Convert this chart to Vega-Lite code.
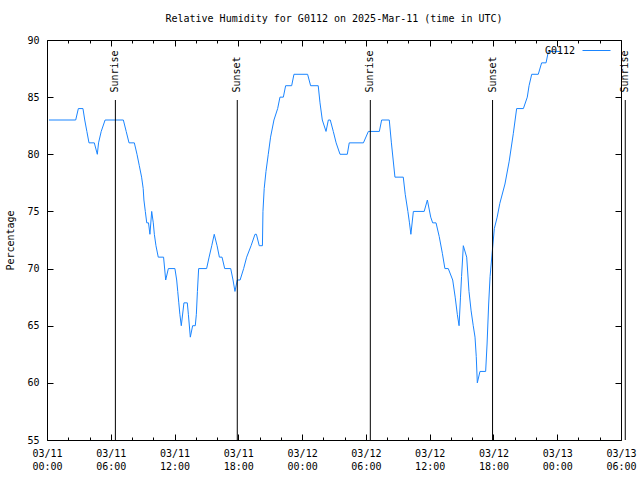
{
  "$schema": "https://vega.github.io/schema/vega-lite/v6.json",
  "width": 574,
  "height": 400,
  "autosize": "none",
  "padding": {"left": 47, "top": 40, "right": 19, "bottom": 40},
  "background": "white",
  "config": {
    "view": {"stroke": "#000000", "strokeWidth": 1},
    "font": "DejaVu Sans Mono",
    "axis": {"domain": false, "grid": false, "tickColor": "#000000", "tickWidth": 1, "labelFont": "DejaVu Sans Mono", "labelFontSize": 10, "labelColor": "#000000", "titleFont": "DejaVu Sans Mono", "titleFontSize": 10, "titleFontWeight": "normal", "titleColor": "#000000"},
    "legend": {"labelFont": "DejaVu Sans Mono", "labelFontSize": 10, "labelColor": "#000000"}
  },
  "title": {"text": "Relative Humidity for G0112 on 2025-Mar-11 (time in UTC)", "font": "DejaVu Sans Mono", "fontSize": 10, "fontWeight": "normal", "color": "#000000", "anchor": "middle", "offset": 11},
  "datasets": {
    "hum": [
      {"t": "2025-03-11T00:11:00Z", "v": 83}, {"t": "2025-03-11T02:42:00Z", "v": 83}, {"t": "2025-03-11T02:57:00Z", "v": 84}, {"t": "2025-03-11T03:23:00Z", "v": 84},
      {"t": "2025-03-11T03:33:00Z", "v": 83}, {"t": "2025-03-11T03:45:00Z", "v": 82}, {"t": "2025-03-11T03:57:00Z", "v": 81}, {"t": "2025-03-11T04:27:00Z", "v": 81},
      {"t": "2025-03-11T04:44:00Z", "v": 80}, {"t": "2025-03-11T04:51:00Z", "v": 81}, {"t": "2025-03-11T05:06:00Z", "v": 82}, {"t": "2025-03-11T05:28:00Z", "v": 83},
      {"t": "2025-03-11T07:11:00Z", "v": 83}, {"t": "2025-03-11T07:27:00Z", "v": 82}, {"t": "2025-03-11T07:43:00Z", "v": 81}, {"t": "2025-03-11T08:13:00Z", "v": 81},
      {"t": "2025-03-11T08:28:00Z", "v": 80}, {"t": "2025-03-11T08:41:00Z", "v": 79}, {"t": "2025-03-11T08:54:00Z", "v": 78}, {"t": "2025-03-11T09:03:00Z", "v": 77},
      {"t": "2025-03-11T09:07:00Z", "v": 76}, {"t": "2025-03-11T09:15:00Z", "v": 75}, {"t": "2025-03-11T09:23:00Z", "v": 74}, {"t": "2025-03-11T09:33:00Z", "v": 74},
      {"t": "2025-03-11T09:41:00Z", "v": 73}, {"t": "2025-03-11T09:51:00Z", "v": 75}, {"t": "2025-03-11T10:00:00Z", "v": 74}, {"t": "2025-03-11T10:06:00Z", "v": 73},
      {"t": "2025-03-11T10:15:00Z", "v": 72}, {"t": "2025-03-11T10:28:00Z", "v": 71}, {"t": "2025-03-11T10:58:00Z", "v": 71}, {"t": "2025-03-11T11:10:00Z", "v": 69},
      {"t": "2025-03-11T11:25:00Z", "v": 70}, {"t": "2025-03-11T12:02:00Z", "v": 70}, {"t": "2025-03-11T12:12:00Z", "v": 69}, {"t": "2025-03-11T12:18:00Z", "v": 68},
      {"t": "2025-03-11T12:24:00Z", "v": 67}, {"t": "2025-03-11T12:30:00Z", "v": 66}, {"t": "2025-03-11T12:38:00Z", "v": 65}, {"t": "2025-03-11T12:53:00Z", "v": 67},
      {"t": "2025-03-11T13:12:00Z", "v": 67}, {"t": "2025-03-11T13:18:00Z", "v": 66}, {"t": "2025-03-11T13:29:00Z", "v": 64}, {"t": "2025-03-11T13:42:00Z", "v": 65},
      {"t": "2025-03-11T13:57:00Z", "v": 65}, {"t": "2025-03-11T14:03:00Z", "v": 66}, {"t": "2025-03-11T14:09:00Z", "v": 68}, {"t": "2025-03-11T14:16:00Z", "v": 70},
      {"t": "2025-03-11T15:01:00Z", "v": 70}, {"t": "2025-03-11T15:15:00Z", "v": 71}, {"t": "2025-03-11T15:30:00Z", "v": 72}, {"t": "2025-03-11T15:44:00Z", "v": 73},
      {"t": "2025-03-11T16:00:00Z", "v": 72}, {"t": "2025-03-11T16:13:00Z", "v": 71}, {"t": "2025-03-11T16:28:00Z", "v": 71}, {"t": "2025-03-11T16:43:00Z", "v": 70},
      {"t": "2025-03-11T17:17:00Z", "v": 70}, {"t": "2025-03-11T17:30:00Z", "v": 69}, {"t": "2025-03-11T17:41:00Z", "v": 68}, {"t": "2025-03-11T17:54:00Z", "v": 69},
      {"t": "2025-03-11T18:10:00Z", "v": 69}, {"t": "2025-03-11T18:30:00Z", "v": 70}, {"t": "2025-03-11T18:47:00Z", "v": 71}, {"t": "2025-03-11T19:12:00Z", "v": 72},
      {"t": "2025-03-11T19:34:00Z", "v": 73}, {"t": "2025-03-11T19:42:00Z", "v": 73}, {"t": "2025-03-11T19:58:00Z", "v": 72}, {"t": "2025-03-11T20:16:00Z", "v": 72},
      {"t": "2025-03-11T20:19:00Z", "v": 75}, {"t": "2025-03-11T20:26:00Z", "v": 77}, {"t": "2025-03-11T20:36:00Z", "v": 78.5}, {"t": "2025-03-11T20:49:00Z", "v": 80},
      {"t": "2025-03-11T21:02:00Z", "v": 81.5}, {"t": "2025-03-11T21:21:00Z", "v": 83}, {"t": "2025-03-11T21:42:00Z", "v": 84}, {"t": "2025-03-11T21:55:00Z", "v": 85},
      {"t": "2025-03-11T22:14:00Z", "v": 85}, {"t": "2025-03-11T22:27:00Z", "v": 86}, {"t": "2025-03-11T23:01:00Z", "v": 86}, {"t": "2025-03-11T23:14:00Z", "v": 87},
      {"t": "2025-03-12T00:31:00Z", "v": 87}, {"t": "2025-03-12T00:48:00Z", "v": 86}, {"t": "2025-03-12T01:31:00Z", "v": 86}, {"t": "2025-03-12T01:41:00Z", "v": 84.5},
      {"t": "2025-03-12T01:54:00Z", "v": 83}, {"t": "2025-03-12T02:15:00Z", "v": 82}, {"t": "2025-03-12T02:28:00Z", "v": 83}, {"t": "2025-03-12T02:39:00Z", "v": 83},
      {"t": "2025-03-12T02:56:00Z", "v": 82}, {"t": "2025-03-12T03:12:00Z", "v": 81}, {"t": "2025-03-12T03:34:00Z", "v": 80}, {"t": "2025-03-12T04:15:00Z", "v": 80},
      {"t": "2025-03-12T04:26:00Z", "v": 81}, {"t": "2025-03-12T05:46:00Z", "v": 81}, {"t": "2025-03-12T06:14:00Z", "v": 82}, {"t": "2025-03-12T07:16:00Z", "v": 82},
      {"t": "2025-03-12T07:29:00Z", "v": 83}, {"t": "2025-03-12T08:12:00Z", "v": 83}, {"t": "2025-03-12T08:24:00Z", "v": 81}, {"t": "2025-03-12T08:44:00Z", "v": 78},
      {"t": "2025-03-12T09:31:00Z", "v": 78}, {"t": "2025-03-12T09:42:00Z", "v": 76.5}, {"t": "2025-03-12T09:57:00Z", "v": 75}, {"t": "2025-03-12T10:06:00Z", "v": 74},
      {"t": "2025-03-12T10:14:00Z", "v": 73}, {"t": "2025-03-12T10:28:00Z", "v": 75}, {"t": "2025-03-12T11:29:00Z", "v": 75}, {"t": "2025-03-12T11:47:00Z", "v": 76},
      {"t": "2025-03-12T12:06:00Z", "v": 74.5}, {"t": "2025-03-12T12:17:00Z", "v": 74}, {"t": "2025-03-12T12:36:00Z", "v": 74}, {"t": "2025-03-12T12:54:00Z", "v": 72.8},
      {"t": "2025-03-12T13:12:00Z", "v": 71.3}, {"t": "2025-03-12T13:26:00Z", "v": 70}, {"t": "2025-03-12T13:45:00Z", "v": 70}, {"t": "2025-03-12T14:10:00Z", "v": 69},
      {"t": "2025-03-12T14:24:00Z", "v": 67.5}, {"t": "2025-03-12T14:36:00Z", "v": 66}, {"t": "2025-03-12T14:46:00Z", "v": 65}, {"t": "2025-03-12T14:54:00Z", "v": 67.5},
      {"t": "2025-03-12T15:00:00Z", "v": 69.3}, {"t": "2025-03-12T15:10:00Z", "v": 72}, {"t": "2025-03-12T15:29:00Z", "v": 71}, {"t": "2025-03-12T15:42:00Z", "v": 68},
      {"t": "2025-03-12T15:54:00Z", "v": 66.3}, {"t": "2025-03-12T16:06:00Z", "v": 65}, {"t": "2025-03-12T16:16:00Z", "v": 64}, {"t": "2025-03-12T16:23:00Z", "v": 62.3},
      {"t": "2025-03-12T16:29:00Z", "v": 60}, {"t": "2025-03-12T16:44:00Z", "v": 61}, {"t": "2025-03-12T17:16:00Z", "v": 61}, {"t": "2025-03-12T17:24:00Z", "v": 63.4},
      {"t": "2025-03-12T17:33:00Z", "v": 66.9}, {"t": "2025-03-12T17:41:00Z", "v": 69.3}, {"t": "2025-03-12T17:54:00Z", "v": 71.6}, {"t": "2025-03-12T18:05:00Z", "v": 73.5},
      {"t": "2025-03-12T18:21:00Z", "v": 74.5}, {"t": "2025-03-12T18:36:00Z", "v": 75.7}, {"t": "2025-03-12T19:05:00Z", "v": 77.4}, {"t": "2025-03-12T19:29:00Z", "v": 79.4},
      {"t": "2025-03-12T19:52:00Z", "v": 81.8}, {"t": "2025-03-12T20:11:00Z", "v": 84}, {"t": "2025-03-12T20:49:00Z", "v": 84}, {"t": "2025-03-12T21:11:00Z", "v": 85},
      {"t": "2025-03-12T21:21:00Z", "v": 86}, {"t": "2025-03-12T21:36:00Z", "v": 87}, {"t": "2025-03-12T22:13:00Z", "v": 87}, {"t": "2025-03-12T22:32:00Z", "v": 88},
      {"t": "2025-03-12T22:57:00Z", "v": 88}, {"t": "2025-03-12T23:10:00Z", "v": 89}, {"t": "2025-03-13T00:16:00Z", "v": 89}
    ],
    "sun": [
      {"t": "2025-03-11T06:26:00Z", "label": "Sunrise"},
      {"t": "2025-03-11T17:54:00Z", "label": "Sunset"},
      {"t": "2025-03-12T06:25:00Z", "label": "Sunrise"},
      {"t": "2025-03-12T17:55:00Z", "label": "Sunset"},
      {"t": "2025-03-13T06:24:00Z", "label": "Sunrise"}
    ]
  },
  "resolve": {"axis": {"x": "independent", "y": "independent"}},
  "layer": [
    {
      "data": {"name": "hum"},
      "mark": {"type": "line", "strokeWidth": 1, "clip": true},
      "encoding": {
        "x": {"field": "t", "type": "temporal",
          "scale": {"type": "utc", "domain": [1741651200000, 1741845600000], "nice": false},
          "axis": {"orient": "bottom", "title": null,
            "values": [1741651200000, 1741658400000, 1741665600000, 1741672800000, 1741680000000, 1741687200000, 1741694400000, 1741701600000, 1741708800000, 1741716000000, 1741723200000, 1741730400000, 1741737600000, 1741744800000, 1741752000000, 1741759200000, 1741766400000, 1741773600000, 1741780800000, 1741788000000, 1741795200000, 1741802400000, 1741809600000, 1741816800000, 1741824000000, 1741831200000, 1741838400000, 1741845600000],
            "labelExpr": "utchours(datum.value) % 6 == 0 ? [utcFormat(datum.value, '%m/%d'), utcFormat(datum.value, '%H:%M')] : ''",
            "tickSize": {"condition": {"test": "utchours(datum.value) % 6 == 0", "value": -6}, "value": -3},
            "labelPadding": 14, "labelLineHeight": 13, "labelOverlap": false, "labelFlush": false, "labelBaseline": "top"}},
        "y": {"field": "v", "type": "quantitative",
          "scale": {"domain": [55, 90], "nice": false, "zero": false},
          "axis": {"orient": "left", "values": [55, 60, 65, 70, 75, 80, 85, 90], "tickSize": -6, "labelPadding": 14,
            "title": "Percentage", "titleAngle": 270, "titleX": -37, "titleY": 200, "titleAlign": "center", "titleBaseline": "middle"}},
        "color": {"datum": "G0112", "type": "nominal",
          "scale": {"range": ["#1a85ff"]},
          "legend": {"title": null, "orient": "none", "legendX": 535, "legendY": -4, "padding": 0,
            "symbolType": "stroke", "symbolSize": 784, "symbolStrokeWidth": 1,
            "labelAlign": "right", "labelOffset": -36, "labelFont": "DejaVu Sans Mono", "labelFontSize": 10}}
      }
    },
    {
      "data": {"name": "sun"},
      "mark": {"type": "rule", "color": "#000000", "strokeWidth": 1, "clip": false},
      "encoding": {
        "x": {"field": "t", "type": "temporal",
          "axis": {"orient": "top", "title": null, "labels": false,
            "values": [1741651200000, 1741658400000, 1741665600000, 1741672800000, 1741680000000, 1741687200000, 1741694400000, 1741701600000, 1741708800000, 1741716000000, 1741723200000, 1741730400000, 1741737600000, 1741744800000, 1741752000000, 1741759200000, 1741766400000, 1741773600000, 1741780800000, 1741788000000, 1741795200000, 1741802400000, 1741809600000, 1741816800000, 1741824000000, 1741831200000, 1741838400000, 1741845600000],
            "tickSize": {"condition": {"test": "utchours(datum.value) % 6 == 0", "value": -6}, "value": -3}}},
        "y": {"datum": 55, "type": "quantitative",
          "axis": {"orient": "right", "title": null, "labels": false, "values": [55, 60, 65, 70, 75, 80, 85, 90], "tickSize": -6}},
        "y2": {"datum": 84.75}
      }
    },
    {
      "data": {"name": "sun"},
      "mark": {"type": "text", "angle": 270, "align": "left", "baseline": "middle", "font": "DejaVu Sans Mono", "fontSize": 10, "color": "#000000", "clip": false},
      "encoding": {
        "x": {"field": "t", "type": "temporal", "axis": null},
        "y": {"datum": 85.4, "type": "quantitative", "axis": null},
        "text": {"field": "label"}
      }
    }
  ]
}
